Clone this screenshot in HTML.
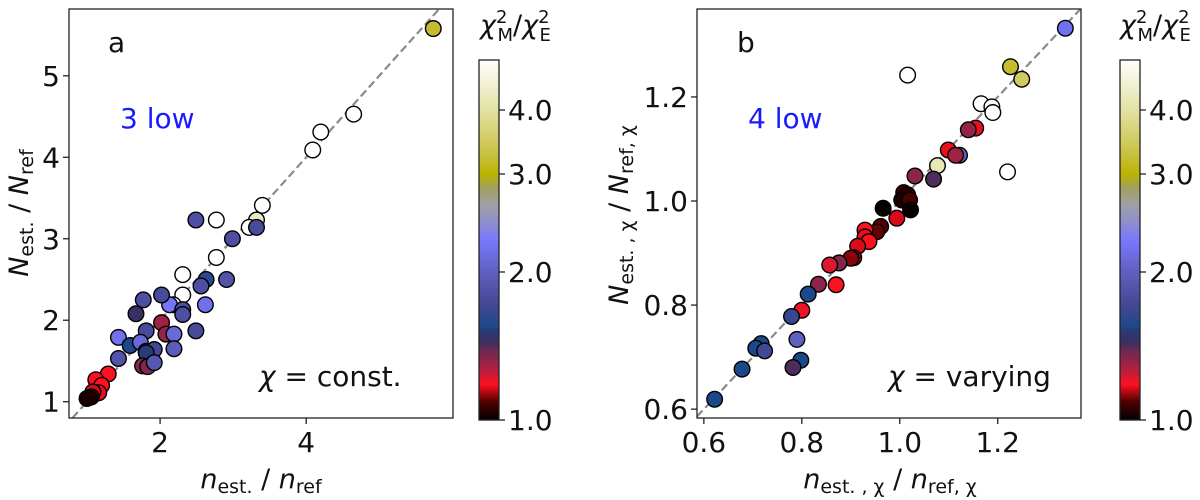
<!DOCTYPE html>
<html><head><meta charset="utf-8">
<style>
html,body{margin:0;padding:0;background:#fff;}
svg{display:block;font-family:"DejaVu Sans","Liberation Sans",sans-serif;}
</style></head>
<body>
<svg id="fig" width="1200" height="500" viewBox="0 0 1200 500" xmlns="http://www.w3.org/2000/svg">
<defs>
<linearGradient id="cmapA" x1="0" y1="1" x2="0" y2="0"></linearGradient>
<linearGradient id="cmapB" x1="0" y1="1" x2="0" y2="0"></linearGradient>
</defs>
<g id="panelA"></g>
<g id="panelB"></g>
</svg>
<script>
const aX = [5.74,4.65,4.20,4.09,3.40,3.32,3.22,3.32,2.99,2.49,2.77,2.77,2.31,2.31,2.63,2.56,2.91,2.62,2.18,2.13,2.02,2.31,2.31,1.77,1.67,2.02,2.08,2.19,2.49,1.81,1.43,1.59,1.73,1.81,1.92,1.81,2.19,1.43,1.76,1.83,1.92,1.29,1.12,1.20,1.16,1.08,1.06,1.00,1.03];
const aY = [5.58,4.53,4.31,4.09,3.41,3.23,3.14,3.14,3.00,3.23,3.23,2.77,2.56,2.31,2.50,2.42,2.50,2.19,2.19,2.19,2.31,2.13,2.07,2.25,2.08,1.97,1.83,1.83,1.87,1.87,1.79,1.69,1.73,1.62,1.64,1.60,1.65,1.53,1.44,1.43,1.48,1.34,1.27,1.20,1.11,1.12,1.06,1.04,1.05];
const aC = [3.2,5,5,5,5,4.3,5,1.75,1.8,1.8,5,5,5,5,1.6,1.8,1.85,2.2,5,2.25,1.75,1.8,1.8,1.8,1.45,1.3,1.32,2.1,1.75,1.75,2.2,1.55,2.1,1.55,1.7,1.53,1.95,1.85,1.35,1.35,1.9,1.18,1.18,1.18,1.17,1.16,1.1,1.02,1.03];
const bX = [1.338,1.226,1.249,1.016,1.166,1.188,1.190,1.220,1.155,1.140,1.099,1.122,1.114,1.077,1.031,1.069,1.008,1.016,1.004,1.020,1.022,0.966,0.994,0.961,0.953,0.929,0.929,0.937,0.914,0.906,0.900,0.876,0.857,0.834,0.870,0.813,0.800,0.779,0.790,0.717,0.706,0.724,0.798,0.782,0.678,0.622];
const bY = [1.332,1.258,1.234,1.242,1.187,1.181,1.170,1.056,1.140,1.137,1.098,1.088,1.088,1.068,1.048,1.042,1.016,1.012,1.002,1.002,0.983,0.986,0.967,0.951,0.941,0.944,0.931,0.922,0.913,0.891,0.890,0.881,0.877,0.840,0.839,0.821,0.790,0.778,0.734,0.726,0.717,0.712,0.694,0.680,0.677,0.619];
const bC = [2.2,3.2,3.5,5,5,5,5,5,1.17,1.32,1.17,2.0,1.3,4.2,1.33,1.42,1.06,1.04,1.03,1.08,1.01,1.0,1.16,1.09,1.1,1.18,1.17,1.18,1.16,1.12,1.12,1.35,1.22,1.33,1.18,1.55,1.2,1.65,2.0,1.55,1.55,1.7,1.54,1.42,1.55,1.55];
const aXTicks = [2,4];
const aYTicks = [1,2,3,4,5];
const bXTicks = [0.6,0.8,1.0,1.2];
const bYTicks = [0.6,0.8,1.0,1.2];
const cbTicks = [1.0,2.0,3.0,4.0];
const cbTickLabels = ["1.0","2.0","3.0","4.0"];
const cmapVals = [1.00,1.09,1.18,1.27,1.38,1.44,1.53,1.54,1.73,2.0,2.28,2.47,2.64,2.83,3.0,3.27,4.0,5.0];
const cmapCols = ["#000000","#500000","#ff1020","#b02040","#702850","#3a3060","#283c78","#1a4888","#484898","#6060c0","#7878ff","#9090c8","#a0a0a8","#a0a060","#bcb400","#c8c040","#e2e2a4","#ffffff"];

const NS = "http://www.w3.org/2000/svg";
function mk(tag, attrs, parent){ const e=document.createElementNS(NS,tag); for(const k in attrs) e.setAttribute(k,attrs[k]); if(parent) parent.appendChild(e); return e; }
function hex2rgb(h){ return [parseInt(h.substr(1,2),16),parseInt(h.substr(3,2),16),parseInt(h.substr(5,2),16)]; }
function cmap(v){
  if(v<=cmapVals[0]) return cmapCols[0];
  for(let i=1;i<cmapVals.length;i++){
    if(v<=cmapVals[i]){
      const t=(v-cmapVals[i-1])/(cmapVals[i]-cmapVals[i-1]);
      const a=hex2rgb(cmapCols[i-1]), b=hex2rgb(cmapCols[i]);
      return "rgb("+a.map((x,j)=>Math.round(x+(b[j]-x)*t)).join(",")+")";
    }
  }
  return cmapCols[cmapCols.length-1];
}
const CBT=60, CBB=420;
const cbPos = [420,272,174,110,60];
const cbPosVals = [1,2,3,4,5];
function cbY(v){
  const lv=Math.log(v);
  for(let i=1;i<cbPosVals.length;i++){
    if(v<=cbPosVals[i]||i===cbPosVals.length-1){
      const a=Math.log(cbPosVals[i-1]), b=Math.log(cbPosVals[i]);
      return cbPos[i-1]+(cbPos[i]-cbPos[i-1])*(lv-a)/(b-a);
    }
  }
}
function buildGrad(id){
  const g=document.getElementById(id);
  for(let i=0;i<cmapVals.length;i++){
    const off=(CBB-cbY(cmapVals[i]))/(CBB-CBT);
    mk("stop",{offset:Math.max(0,Math.min(1,off)),"stop-color":cmapCols[i]},g);
  }
}
buildGrad("cmapA"); buildGrad("cmapB");

function panel(gid, cfg){
  const g=document.getElementById(gid);
  const {L,R,T,B,x0,x1,y0,y1}=cfg;
  const sx=v=>L+(v-x0)/(x1-x0)*(R-L);
  const sy=v=>B-(v-y0)/(y1-y0)*(B-T);
  const cid="clip"+gid;
  const cp=mk("clipPath",{id:cid},g); mk("rect",{x:L,y:T,width:R-L,height:B-T},cp);
  const lo=Math.max(x0,y0), hi=Math.min(x1,y1);
  const dl=mk("line",{x1:sx(lo),y1:sy(lo),x2:sx(hi),y2:sy(hi),stroke:"#8a8a8a","stroke-width":2.2,"stroke-dasharray":"8,4","clip-path":"url(#"+cid+")"},g);
  
  
  const pts=mk("g",{"clip-path":"url(#"+cid+")"},g);
  
  
  for(let i=0;i<cfg.X.length;i++){
    const c=mk("circle",{cx:sx(cfg.X[i]),cy:sy(cfg.Y[i]),r:7.8,fill:cmap(cfg.C[i]),stroke:"#000","stroke-width":1.4},pts);
    
    
  }
  const fr=mk("rect",{x:L,y:T,width:R-L,height:B-T,fill:"none",stroke:"#222","stroke-width":1.3},g);
  
  
  cfg.xt.forEach(v=>{
    mk("line",{x1:sx(v),x2:sx(v),y1:B,y2:B+6,stroke:"#222","stroke-width":1.3},g);
    const t=mk("text",{x:sx(v),y:B+34,"text-anchor":"middle","font-size":28,fill:"#111"},g);
    t.textContent=cfg.xf(v);
    
    
  });
  cfg.yt.forEach(v=>{
    mk("line",{x1:L-6,x2:L,y1:sy(v),y2:sy(v),stroke:"#222","stroke-width":1.3},g);
    const t=mk("text",{x:L-9,y:sy(v)+10,"text-anchor":"end","font-size":28,fill:"#111"},g);
    t.textContent=cfg.yf(v);
    
    
  });
  const cb=mk("rect",{x:cfg.cbx,y:CBT,width:20,height:CBB-CBT,fill:"url(#"+cfg.grad+")",stroke:"#222","stroke-width":1.3},g);
  
  
  cbTicks.forEach((v,i)=>{
    mk("line",{x1:cfg.cbx+20,x2:cfg.cbx+26,y1:cbY(v),y2:cbY(v),stroke:"#222","stroke-width":1.3},g);
    const t=mk("text",{x:cfg.cbx+29,y:cbY(v)+10,"font-size":28,fill:"#111"},g);
    t.textContent=cbTickLabels[i];
    
    
  });
}
panel("panelA",{L:69,R:453,T:9,B:418,x0:0.753,x1:6.01,y0:0.80,y1:5.82,X:aX,Y:aY,C:aC,xt:aXTicks,yt:aYTicks,xf:v=>String(v),yf:v=>String(v),cbx:479,grad:"cmapA"});
panel("panelB",{L:697,R:1081,T:9,B:418,x0:0.586,x1:1.370,y0:0.583,y1:1.369,X:bX,Y:bY,C:bC,xt:bXTicks,yt:bYTicks,xf:v=>v.toFixed(1),yf:v=>v.toFixed(1),cbx:1120,grad:"cmapB"});
</script>
<svg style="position:absolute;left:0;top:0" width="1200" height="500" xmlns="http://www.w3.org/2000/svg" font-family="DejaVu Sans, Liberation Sans, sans-serif">
<text x="108" y="52" font-size="28" fill="#111">a</text>
<text x="120" y="128" font-size="28" fill="#1a1aff">3 low</text>
<text x="259" y="386" font-size="28" fill="#111"><tspan font-style="italic">χ</tspan> = const.</text>
<text x="737" y="52" font-size="28" fill="#111">b</text>
<text x="748" y="128" font-size="28" fill="#1a1aff">4 low</text>
<text x="888" y="386" font-size="28" fill="#111"><tspan font-style="italic">χ</tspan> = varying</text>
<text x="261" y="488" text-anchor="middle" font-size="27" fill="#111"><tspan font-style="italic">n</tspan><tspan font-size="19" dy="5">est.</tspan><tspan dy="-5"> / </tspan><tspan font-style="italic">n</tspan><tspan font-size="19" dy="5">ref</tspan></text>
<text transform="translate(28,213) rotate(-90)" text-anchor="middle" font-size="27" fill="#111"><tspan font-style="italic">N</tspan><tspan font-size="19" dy="5">est.</tspan><tspan dy="-5"> / </tspan><tspan font-style="italic">N</tspan><tspan font-size="19" dy="5">ref</tspan></text>
<text x="890" y="488" text-anchor="middle" font-size="27" fill="#111"><tspan font-style="italic">n</tspan><tspan font-size="19" dy="5">est. , χ</tspan><tspan dy="-5"> / </tspan><tspan font-style="italic">n</tspan><tspan font-size="19" dy="5">ref, χ</tspan></text>
<text transform="translate(628,215) rotate(-90)" text-anchor="middle" font-size="27" fill="#111"><tspan font-style="italic">N</tspan><tspan font-size="19" dy="5">est. , χ</tspan><tspan dy="-5"> / </tspan><tspan font-style="italic">N</tspan><tspan font-size="19" dy="5">ref, χ</tspan></text>
<text x="480" y="34" font-size="27" fill="#111"><tspan font-style="italic">χ</tspan><tspan font-size="18" dy="-11">2</tspan><tspan font-size="18" dx="-10" dy="18">M</tspan><tspan dy="-7">/</tspan><tspan font-style="italic">χ</tspan><tspan font-size="18" dy="-11">2</tspan><tspan font-size="18" dx="-10" dy="18">E</tspan></text>
<text x="1120" y="34" font-size="27" fill="#111"><tspan font-style="italic">χ</tspan><tspan font-size="18" dy="-11">2</tspan><tspan font-size="18" dx="-10" dy="18">M</tspan><tspan dy="-7">/</tspan><tspan font-style="italic">χ</tspan><tspan font-size="18" dy="-11">2</tspan><tspan font-size="18" dx="-10" dy="18">E</tspan></text>
</svg>
</body></html>
